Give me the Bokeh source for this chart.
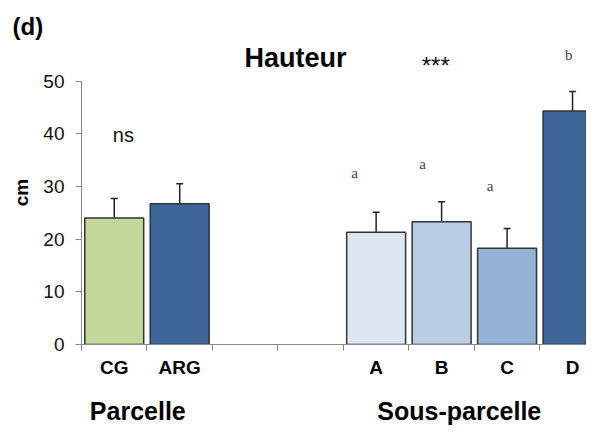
from bokeh.plotting import figure
from bokeh.models import ColumnDataSource, Range1d, FixedTicker, Whisker, TeeHead, LinearAxis
from bokeh.core.properties import value
from bokeh.embed import file_html
from bokeh.resources import INLINE

# ---- data ----
categories = ["CG", "ARG", "A", "B", "C", "D"]
positions = [0.5, 1.5, 4.5, 5.5, 6.5, 7.5]          # slot centres (slots 2,3 empty)
heights = [24.0, 26.7, 21.3, 23.3, 18.25, 44.3]
errors = [3.7, 3.8, 3.8, 3.8, 3.75, 3.7]
colors = ["#c4d79b", "#3d6597", "#dce6f2", "#b9cde5", "#95b3d7", "#3d6597"]
y_ticks = [0, 10, 20, 30, 40, 50]
slot_bounds = [0, 1, 2, 3, 4, 5, 6, 7]

letter_texts = ["a", "a", "a", "b"]
letter_x = [4.17, 5.21, 6.24, 7.44]
letter_y = [32.6, 34.3, 30.1, 54.9]

group_names = ["Parcelle", "Sous-parcelle"]
group_x = [0.86, 5.77]

src = ColumnDataSource(dict(
    x=positions, top=heights, color=colors,
    upper=[h + e for h, e in zip(heights, errors)],
))

p = figure(width=586, height=427, output_backend="svg", toolbar_location=None,
           x_range=Range1d(0, 7.713), y_range=Range1d(0, 57.70),
           min_border_left=81, min_border_right=0, min_border_top=40, min_border_bottom=83)
p.outline_line_color = None
p.grid.visible = False
p.background_fill_color = "white"
p.border_fill_color = "white"

p.title.text = "(d)"
p.title.align = "left"
p.title.vertical_align = "middle"
p.title.offset = -69
p.title.standoff = 0
p.title.text_font = "Liberation Sans"
p.title.text_font_size = "24px"
p.title.text_font_style = "bold"
p.title.text_color = "#000000"

p.vbar(x="x", top="top", bottom=0, width=0.9, fill_color="color",
       line_color="#333333", line_width=1.5, source=src)

w = Whisker(base="x", lower="top", upper="upper", dimension="height", source=src,
            line_color="#222222", line_width=1.5,
            upper_head=TeeHead(size=7, line_color="#222222", line_width=1.5),
            lower_head=None)
p.add_layout(w)

# y axis
ya = p.yaxis[0]
ya.ticker = FixedTicker(ticks=y_ticks)
ya.bounds = (0, 50)
ya.axis_line_color = "#888888"
ya.major_tick_line_color = "#888888"
ya.major_tick_out = 6
ya.major_tick_in = 0
ya.minor_tick_line_color = None
ya.major_label_text_font = "Liberation Sans"
ya.major_label_text_font_size = "19px"
ya.major_label_text_color = "#111111"
ya.major_label_standoff = 11
ya.axis_label = "cm"
ya.axis_label_text_font = "Liberation Sans"
ya.axis_label_text_font_style = "bold"
ya.axis_label_text_font_size = "19px"
ya.axis_label_text_color = "#000000"
ya.axis_label_standoff = 8

# x axis
xa = p.xaxis[0]
xa.ticker = FixedTicker(ticks=positions, minor_ticks=slot_bounds)
xa.major_label_overrides = {pos: c for pos, c in zip(positions, categories)}
xa.axis_line_color = "#888888"
xa.major_tick_line_color = None
xa.major_tick_out = 0
xa.major_tick_in = 0
xa.minor_tick_line_color = "#888888"
xa.minor_tick_out = 6
xa.minor_tick_in = 0
xa.major_label_text_font = "Liberation Sans"
xa.major_label_text_font_style = "bold"
xa.major_label_text_font_size = "19px"
xa.major_label_text_color = "#000000"
xa.major_label_standoff = 6

# group axis (second row below)
ga = LinearAxis(ticker=FixedTicker(ticks=group_x, minor_ticks=[]),
                major_label_overrides={gx: n for gx, n in zip(group_x, group_names)})
ga.axis_line_color = None
ga.major_tick_line_color = None
ga.minor_tick_line_color = None
ga.major_tick_out = 0
ga.major_tick_in = 0
ga.major_label_text_font = "Liberation Sans"
ga.major_label_text_font_style = "bold"
ga.major_label_text_font_size = "25px"
ga.major_label_text_color = "#000000"
ga.major_label_standoff = 16
p.add_layout(ga, "below")

# annotations inside the frame
p.text(x=[0.64], y=[39.8], text=["ns"], text_align="center", text_baseline="middle",
       text_font=value("Liberation Sans"), text_font_size="20px", text_color="#111111")
p.text(x=letter_x, y=letter_y, text=letter_texts, text_align="center", text_baseline="middle",
       text_font=value("Liberation Serif"), text_font_size="15px", text_color="#444444")
p.text(x=[5.41], y=[52.9], text=["***"], text_align="center", text_baseline="middle",
       text_font=value("Liberation Sans"), text_font_size="24px", text_color="#111111")
p.text(x=[3.27], y=[54.4], text=["Hauteur"], text_align="center", text_baseline="middle",
       text_font=value("Liberation Sans"), text_font_size="27px", text_font_style="bold",
       text_color="#000000")

open("out.html", "w").write(file_html(p, INLINE))
